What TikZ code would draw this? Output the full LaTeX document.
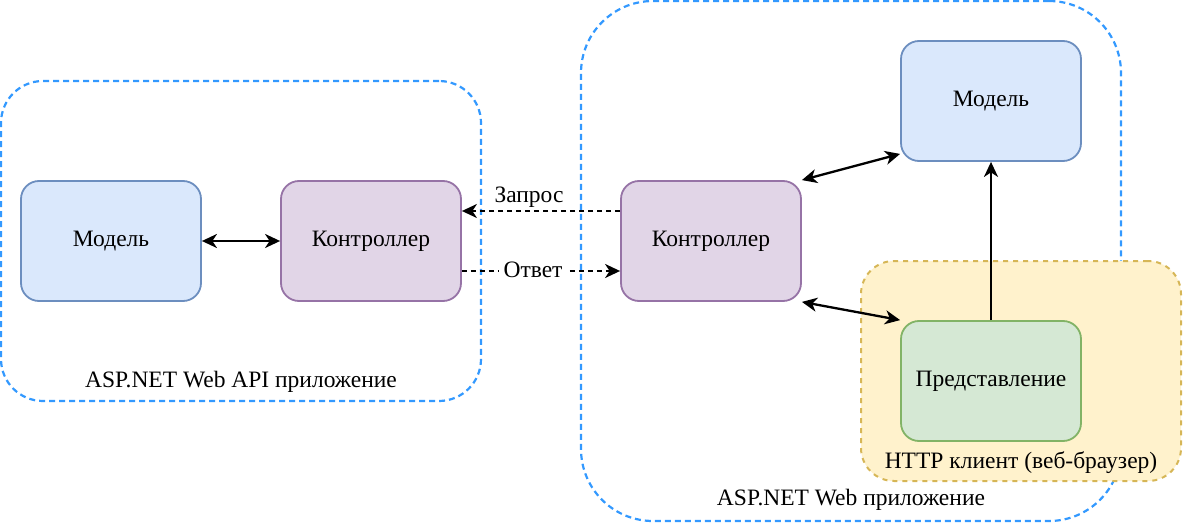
\documentclass[tikz,border=0pt]{standalone}
\usepackage{fontspec}
\setmainfont{Liberation Serif}
\usetikzlibrary{arrows.meta,calc}
\definecolor{cblue}{HTML}{3399FF}
\definecolor{mfill}{HTML}{DAE8FC}
\definecolor{mdraw}{HTML}{6C8EBF}
\definecolor{cfill}{HTML}{E1D5E7}
\definecolor{cdraw}{HTML}{9673A6}
\definecolor{vfill}{HTML}{D5E8D4}
\definecolor{vdraw}{HTML}{82B366}
\definecolor{yfill}{HTML}{FFF2CC}
\definecolor{ydraw}{HTML}{D6B656}
\tikzset{
  every node/.style={font=\fontsize{23.5}{27}\selectfont, text=black},
  box/.style={rounded corners=18, minimum width=180, minimum height=120, line width=1.8, inner sep=0},
  modelbox/.style={box, fill=mfill, draw=mdraw},
  ctrlbox/.style={box, fill=cfill, draw=cdraw},
  viewbox/.style={box, fill=vfill, draw=vdraw},
  container/.style={draw=cblue, line width=2.2, dash pattern=on 6 off 4, inner sep=0},
  >={Stealth[length=15,width=14,inset=4.5]},
  conn/.style={line width=2.3, black},
  dconn/.style={line width=2, black, dash pattern=on 5 off 4},
}
\begin{document}
\begin{tikzpicture}[x=1pt,y=-1pt]
\useasboundingbox (0,0) rectangle (1184,524);
% containers
\node[container, rounded corners=42, minimum width=480, minimum height=320] (apic) at (241,241) {};
\node (apilabel) at (241,382) {ASP.NET Web API приложение};
\node[container, rounded corners=72, minimum width=540, minimum height=520] (webc) at (851,261) {};
\node (weblabel) at (851,500) {ASP.NET Web приложение};
\node[fill=yfill, draw=ydraw, line width=2, dash pattern=on 5 off 5, rounded corners=33, minimum width=320, minimum height=220, inner sep=0] (httpc) at (1021,371) {};
\node (httplabel) at (1021,463) {HTTP клиент (веб-браузер)};
% boxes
\node[modelbox] (m1) at (111,241) {Модель};
\node[ctrlbox] (c1) at (371,241) {Контроллер};
\node[ctrlbox] (c2) at (711,241) {Контроллер};
\node[modelbox] (m2) at (991,101) {Модель};
\node[viewbox] (v) at (991,381) {Представление};
% connectors
\draw[conn, <->] (m1.east) -- (c1.west);
\draw[dconn, ->] ($(c2.west)+(0,-30)$) -- ($(c1.east)+(0,-30)$);
\node (zq) at (529,197) {Запрос};
\draw[dconn, ->] ($(c1.east)+(0,30)$) -- ($(c2.west)+(0,30)$);
\node[fill=white, inner xsep=5pt, inner ysep=1pt] (ot) at (533,270) {Ответ};
\draw[conn, <->] (c2.north east) -- ($(m2.south west)+(0,-8)$);
\draw[conn, <->] (c2.south east) -- (v.north west);
\draw[conn, ->] (v.north) -- (m2.south);
\end{tikzpicture}
\end{document}
